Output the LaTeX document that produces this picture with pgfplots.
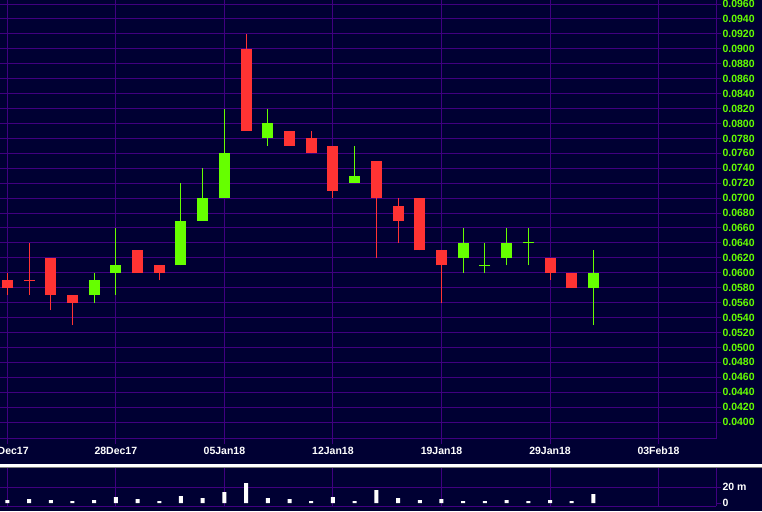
\documentclass[border=0pt]{standalone}
\usepackage{fontspec}
\setmainfont{Liberation Sans}
\usepackage{pgfplots}
\usepackage{pgfplotstable}
\pgfplotsset{compat=1.18}
\definecolor{bg}{RGB}{0,0,51}
\definecolor{gridc}{RGB}{64,0,128}
\definecolor{cred}{RGB}{255,51,51}
\definecolor{cgreen}{RGB}{102,255,0}
\newcommand{\lab}{\fontsize{10.5}{12}\selectfont\bfseries}

\pgfplotstableread{
i O H L C
0 0.059 0.060 0.057 0.058
1 0.059 0.064 0.057 0.059
2 0.062 0.062 0.055 0.057
3 0.057 0.057 0.053 0.056
6 0.063 0.063 0.060 0.060
7 0.061 0.061 0.059 0.060
11 0.090 0.092 0.079 0.079
13 0.079 0.079 0.077 0.077
14 0.078 0.079 0.076 0.076
15 0.077 0.077 0.070 0.071
17 0.075 0.075 0.062 0.070
18 0.069 0.070 0.064 0.067
19 0.070 0.070 0.063 0.063
20 0.063 0.063 0.056 0.061
25 0.062 0.062 0.059 0.060
26 0.060 0.060 0.058 0.058
}\redc

\pgfplotstableread{
i O H L C
4 0.057 0.060 0.056 0.059
5 0.060 0.066 0.057 0.061
8 0.061 0.072 0.061 0.067
9 0.067 0.074 0.067 0.070
10 0.070 0.082 0.070 0.076
12 0.078 0.082 0.077 0.080
16 0.072 0.077 0.072 0.073
21 0.062 0.066 0.060 0.064
22 0.061 0.064 0.060 0.061
23 0.062 0.066 0.061 0.064
24 0.064 0.066 0.061 0.064
27 0.058 0.063 0.053 0.060
}\greenc

\pgfplotstableread{
i C
1 0.059
}\reddoji

\pgfplotstableread{
i C
22 0.061
24 0.064
}\greendoji

\pgfplotstableread{
i v
0 3.75
1 5
2 3.75
3 2.5
4 3.75
5 7.5
6 5
7 2.5
8 8.75
9 6.25
10 13.75
11 25
12 6.25
13 5
14 2.5
15 7.5
16 2.5
17 16.25
18 6.25
19 3.75
20 5
21 2.5
22 2.5
23 3.75
24 2.5
25 3.75
26 2.5
27 11.25
}\vol

\pgfplotsset{
  chartbase/.style={
    scale only axis, width=716.3pt,
    xmin=-0.338, xmax=32.66, enlargelimits=false,
    axis x line*=bottom, axis y line*=right,
    axis line style={gridc, line width=1pt},
    tick style={gridc, line width=1pt},
    major tick length=5pt, tick align=outside,
    grid=major, major grid style={gridc, line width=1pt},
    xtick={0,5,...,30},
    scaled y ticks=false,
  },
}

\begin{document}
\begin{tikzpicture}[x=1pt,y=1pt]
\useasboundingbox (0pt,0pt) rectangle (762pt,511pt);
\clip (0pt,0pt) rectangle (762pt,511pt);
\fill[bg] (0pt,0pt) rectangle (762pt,511pt);

\begin{axis}[chartbase, at={(0pt,72pt)}, anchor=south west, height=439pt,
  ymin=0.03773, ymax=0.09654,
  xticklabels={19Dec17,28Dec17,05Jan18,12Jan18,19Jan18,29Jan18,03Feb18},
  xticklabel style={white, font=\lab, inner sep=0pt, anchor=north, yshift=-3pt},
  ytick={0.040,0.042,0.044,0.046,0.048,0.050,0.052,0.054,0.056,0.058,0.060,0.062,0.064,0.066,0.068,0.070,0.072,0.074,0.076,0.078,0.080,0.082,0.084,0.086,0.088,0.090,0.092,0.094,0.096},
  yticklabel style={cgreen, font=\lab, inner sep=0pt, anchor=west, xshift=1pt,
    /pgf/number format/fixed, /pgf/number format/fixed zerofill,
    /pgf/number format/precision=4, /pgf/number format/assume math mode=true},
]
% wicks
\addplot[draw=none, mark=none,
  error bars/.cd, y dir=plus, y explicit, error mark=none,
  error bar style={draw=cred, line width=1pt}]
  table[x=i, y=L, y error plus expr=\thisrow{H}-\thisrow{L}]{\redc};
\addplot[draw=none, mark=none,
  error bars/.cd, y dir=plus, y explicit, error mark=none,
  error bar style={draw=cgreen, line width=1pt}]
  table[x=i, y=L, y error plus expr=\thisrow{H}-\thisrow{L}]{\greenc};
% bodies
\addplot[draw=none, mark=none,
  error bars/.cd, y dir=plus, y explicit, error mark=none,
  error bar style={draw=cred, line width=11pt}]
  table[x=i, y=C, y error plus expr=\thisrow{O}-\thisrow{C}]{\redc};
\addplot[draw=none, mark=none,
  error bars/.cd, y dir=plus, y explicit, error mark=none,
  error bar style={draw=cgreen, line width=11pt}]
  table[x=i, y=O, y error plus expr=\thisrow{C}-\thisrow{O}]{\greenc};
% doji
\addplot[only marks, mark=-, mark size=5.5pt, color=cred, mark options={line width=1pt}]
  table[x=i, y=C]{\reddoji};
\addplot[only marks, mark=-, mark size=5.5pt, color=cgreen, mark options={line width=1pt}]
  table[x=i, y=C]{\greendoji};
\end{axis}

\begin{axis}[chartbase, at={(0pt,5pt)}, anchor=south west, height=38pt,
  ymin=-3.75, ymax=43.75,
  xticklabels={}, xtick style={draw=none},
  ytick={20}, yticklabels={20 m},
  extra y ticks={0}, extra y tick labels={0},
  extra y tick style={grid=none},
  yticklabel style={white, font=\lab, inner sep=0pt, anchor=west, xshift=1pt},
]
\addplot[ybar, bar width=4pt, fill=white, draw=none] table[x=i, y=v]{\vol};
\end{axis}

\fill[gray] (0pt,43pt) rectangle (762pt,44.3pt);
\fill[white] (0pt,44.3pt) rectangle (762pt,47pt);
\end{tikzpicture}
\end{document}
